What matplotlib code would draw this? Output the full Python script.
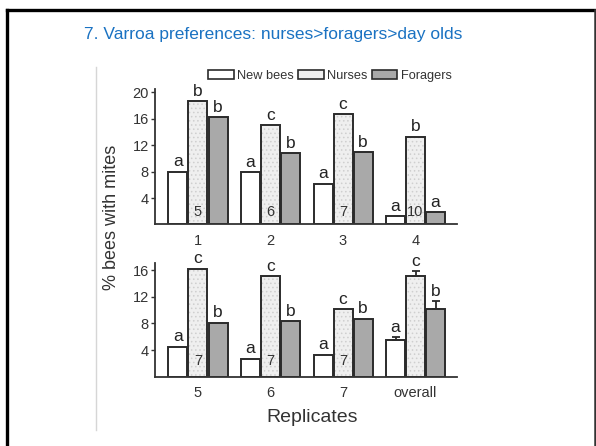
import matplotlib
matplotlib.use("Agg")
import matplotlib.pyplot as plt
from matplotlib.lines import Line2D
from matplotlib.patches import Patch
import numpy as np

plt.rcParams['font.family'] = ['Liberation Sans', 'DejaVu Sans']
plt.rcParams['hatch.linewidth'] = 0.6

# ---------------- data ----------------
upper_groups = ['1', '2', '3', '4']
upper_new = [8.0, 7.9, 6.2, 1.3]
upper_nurses = [18.7, 15.0, 16.7, 13.3]
upper_foragers = [16.2, 10.8, 10.9, 1.9]
upper_letters_new = ['a', 'a', 'a', 'a']
upper_letters_nurses = ['b', 'c', 'c', 'b']
upper_letters_foragers = ['b', 'b', 'b', 'a']
upper_n = ['5', '6', '7', '10']

lower_groups = ['5', '6', '7', 'overall']
lower_new = [4.5, 2.7, 3.3, 5.5]
lower_nurses = [16.2, 15.1, 10.1, 15.1]
lower_foragers = [8.1, 8.3, 8.7, 10.1]
lower_err_new = [0, 0, 0, 0.45]
lower_err_nurses = [0, 0, 0, 0.75]
lower_err_foragers = [0, 0, 0, 1.2]
lower_letters_new = ['a', 'a', 'a', 'a']
lower_letters_nurses = ['c', 'c', 'c', 'c']
lower_letters_foragers = ['b', 'b', 'b', 'b']
lower_n = ['7', '7', '7', '']

series_names = ['New bees', 'Nurses', 'Foragers']
title_text = '7. Varroa preferences: nurses>foragers>day olds'

# ---------------- figure ----------------
W, H = 596, 446
fig = plt.figure(figsize=(W / 100, H / 100), dpi=100)
fig.patch.set_facecolor('white')

def px_axes(left, right, bottom, top):
    return fig.add_axes([left / W, 1 - bottom / H, (right - left) / W, (bottom - top) / H])

# slide border
fig.add_artist(Line2D([7 / W, 7 / W], [0, 1 - 9.5 / H], transform=fig.transFigure, color='black', lw=2.4))
fig.add_artist(Line2D([7 / W, 1], [1 - 9.5 / H, 1 - 9.5 / H], transform=fig.transFigure, color='black', lw=2.4))
fig.add_artist(Line2D([594.5 / W, 594.5 / W], [0, 1 - 9.5 / H], transform=fig.transFigure, color='#333333', lw=1.8))
# faint image edge
fig.add_artist(Line2D([96 / W, 96 / W], [1 - 430 / H, 1 - 67 / H], transform=fig.transFigure, color='#d6d6d6', lw=1.0))

fig.text(273 / W, 1 - 35 / H, title_text, color='#1a72c2', fontsize=12.5, ha='center', va='center')

EDGE = '#2b2b2b'
FACES = ['white', '#efefef', '#a9a9a9']
HATCHES = [None, '....', None]

bw = 0.262
offs = [-0.276, 0.0, 0.276]


def draw_panel(ax, groups, vals, errs, letters, nums, ymax, yticks, num_off_pt):
    x = np.arange(len(groups))
    for i in range(3):
        if HATCHES[i]:
            # light speckled fill, then dark outline on top
            ax.bar(x + offs[i], vals[i], width=bw, facecolor=FACES[i], edgecolor='#cfcfcf',
                   hatch=HATCHES[i], linewidth=0, zorder=2)
            ax.bar(x + offs[i], vals[i], width=bw, fill=False, edgecolor=EDGE, linewidth=1.4, zorder=2.5)
        else:
            ax.bar(x + offs[i], vals[i], width=bw, facecolor=FACES[i], edgecolor=EDGE,
                   linewidth=1.4, zorder=2)
        if errs is not None:
            e = np.array(errs[i])
            mask = e > 0
            if mask.any():
                ax.errorbar((x + offs[i])[mask], np.array(vals[i])[mask],
                            yerr=[np.zeros(mask.sum()), e[mask]],
                            fmt='none', ecolor=EDGE, elinewidth=1.3, capsize=3, capthick=1.3, zorder=3)
        for j in range(len(groups)):
            top = vals[i][j] + (errs[i][j] if errs is not None else 0)
            ax.annotate(letters[i][j], (x[j] + offs[i], top), xytext=(0, 3.8), textcoords='offset points',
                        ha='center', va='baseline', fontsize=12.5, color='#222222', annotation_clip=False)
    for j in range(len(groups)):
        if nums[j]:
            ax.annotate(nums[j], (x[j] + offs[1], 0), xytext=(0, num_off_pt), textcoords='offset points',
                        ha='center', va='baseline', fontsize=10.5, color='#333333', zorder=4)
    ax.set_xlim(-0.593, 3.572)
    ax.set_ylim(0, ymax)
    ax.set_yticks(yticks)
    ax.set_yticklabels([str(t) for t in yticks])
    ax.set_xticks(x)
    ax.set_xticklabels(groups)
    for s in ['top', 'right']:
        ax.spines[s].set_visible(False)
    for s in ['left', 'bottom']:
        ax.spines[s].set_color('#333333')
        ax.spines[s].set_linewidth(1.3)
    ax.tick_params(axis='y', length=3, width=1.0, color='#333333', labelsize=10.5, labelcolor='#333333', pad=1.5)
    ax.tick_params(axis='x', length=0, labelsize=10.5, labelcolor='#333333', pad=7)
    ax.set_facecolor('none')


ax1 = px_axes(155, 457, 224.5, 89)
draw_panel(ax1, upper_groups, [upper_new, upper_nurses, upper_foragers], None,
           [upper_letters_new, upper_letters_nurses, upper_letters_foragers], upper_n, 20.5,
           [4, 8, 12, 16, 20], 6.0)

ax2 = px_axes(155, 457, 376.7, 262.7)
draw_panel(ax2, lower_groups, [lower_new, lower_nurses, lower_foragers],
           [lower_err_new, lower_err_nurses, lower_err_foragers],
           [lower_letters_new, lower_letters_nurses, lower_letters_foragers], lower_n, 17.1,
           [4, 8, 12, 16], 8.4)

handles = [Patch(facecolor=FACES[i], edgecolor=EDGE, linewidth=1.2) for i in range(3)]
fig.legend(handles, series_names, loc='center', bbox_to_anchor=(330 / W, 1 - 76 / H), ncol=3, frameon=False,
           fontsize=9.2, handlelength=2.0, handleheight=0.65, handletextpad=0.3, columnspacing=0.3,
           labelcolor='#333333', borderpad=0)

fig.text(112 / W, 1 - 217 / H, '% bees with mites', rotation=90, ha='center', va='center', fontsize=13,
         color='#333333')
fig.text(312 / W, 1 - 417 / H, 'Replicates', ha='center', va='center', fontsize=14, color='#333333')

fig.savefig('out.png', dpi=100, facecolor='white')
